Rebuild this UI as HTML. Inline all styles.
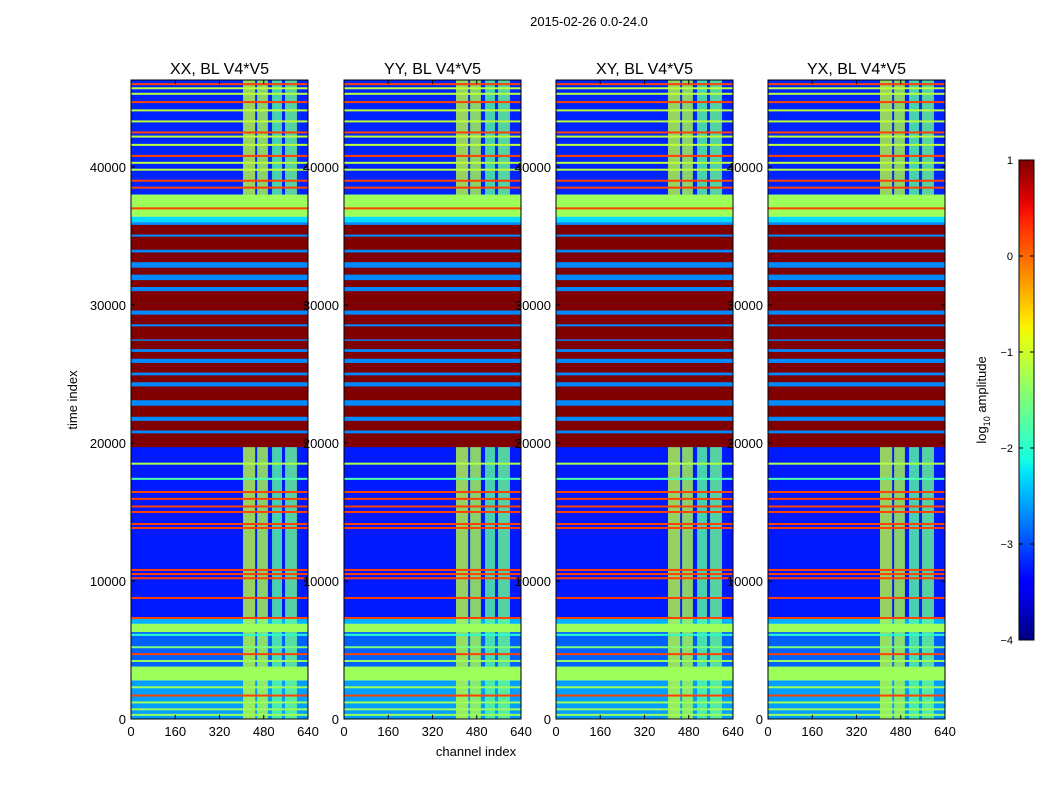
<!DOCTYPE html>
<html><head><meta charset="utf-8">
<style>
body{margin:0;background:#fff;font-family:"Liberation Sans",sans-serif;}
svg text{font-family:"Liberation Sans",sans-serif;fill:#000;}
</style></head>
<body>
<svg id="fig" width="1050" height="800" xmlns="http://www.w3.org/2000/svg">
<rect width="1050" height="800" fill="#fff"/>
<text x="589" y="26" font-size="13" text-anchor="middle">2015-02-26 0.0-24.0</text>
<text transform="translate(77,400) rotate(-90)" font-size="13" text-anchor="middle">time index</text>
<text x="476" y="756" font-size="13" text-anchor="middle">channel index</text>
<g id="panels"></g>
<defs><linearGradient id="jetg" x1="0" y1="1" x2="0" y2="0"></linearGradient></defs>
<rect x="1019" y="160" width="15" height="480" fill="url(#jetg)" stroke="#000" stroke-width="1"/>
<g id="cbticks"></g>
<text transform="translate(986,400) rotate(-90)" font-size="13" text-anchor="middle">log<tspan font-size="9" dy="4">10</tspan><tspan dy="-4"> amplitude</tspan></text>
</svg>
<script>
// ---- data ----
const panelTitles = ["XX, BL V4*V5","YY, BL V4*V5","XY, BL V4*V5","YX, BL V4*V5"];
const xTicks = [0,160,320,480,640];
const yTicks = [0,10000,20000,30000,40000];
const cbTicks = [1,0,-1,-2,-3,-4];
// background time bands [tStart, tEnd, log10 amplitude]
const bgBands = [[0,2800,-2.6],[2800,3800,-1.3],[3800,6300,-2.9],[6300,6900,-1.3],[6900,7300,-2.5],[7300,20000,-3.25],[20000,36000,-2.7],[36000,36400,-2.3],[36400,38000,-1.3],[38000,46300,-3.2]];
// red bands in the flagged region [tStart, tEnd]
const redBands = [[19700,20700],[20900,21600],[21900,22700],[23100,24100],[24400,24900],[25100,25800],[26100,26600],[26800,27400],[27500,28450],[28600,29300],[29600,30100],[30100,31000],[31300,31800],[32200,32700],[33100,33800],[34000,34950],[35100,35800]];
// horizontal line features [t, log10 amplitude]
const hLines = [[300,-1.3],[700,-1.3],[1200,-1.3],[1700,0.2],[2300,-1.3],[4200,-1.3],[4700,0.2],[5200,-1.5],[6100,-2.0],[7320,0.2],[8770,0.2],[10200,0.2],[10500,0.2],[10800,0.2],[13840,0.2],[14130,0.2],[15000,0.2],[15400,0.2],[15950,0.2],[16450,0.2],[17400,-1.8],[18500,-1.2],[37000,0.2],[38500,0.2],[39000,0.2],[39800,-1.1],[40300,-1.1],[40800,0.2],[41600,-1.1],[42200,-1.1],[42500,0.2],[43300,-1.1],[44100,-1.1],[44700,0.2],[45300,-1.1],[45700,-1.1],[46000,0.2]];
// RFI channel stripes [chStart, chEnd, log10 amplitude]
const rfiCols = [[405,449,-1.1],[456,495,-1.2],[510,546,-1.7],[557,600,-1.6]];
// time ranges where RFI stripes are visible
const rfiTimes = [[0,2800],[3800,6300],[6900,20000],[38000,46300]];
// ---- scales ----
const px0=[131,344,556,768], pw=177, py0=80, py1=719, tMax=46300;
const tY = t => py1 - t*(py1-py0)/tMax;
const chX = (p,c) => px0[p] + c*pw/640;
const JR=[[0,0],[0.35,0],[0.66,1],[0.89,1],[1,0.5]];
const JG=[[0,0],[0.125,0],[0.375,1],[0.64,1],[0.91,0],[1,0]];
const JB=[[0,0.5],[0.11,1],[0.34,1],[0.65,0],[1,0]];
function seg(s,x){for(let i=1;i<s.length;i++){if(x<=s[i][0]){const a=s[i-1],b=s[i];return a[1]+(b[1]-a[1])*(x-a[0])/(b[0]-a[0]);}}return s[s.length-1][1];}
function jet(v){
  let x=(v+4)/5; x=Math.max(0,Math.min(1,x));
  return `rgb(${Math.round(seg(JR,x)*255)},${Math.round(seg(JG,x)*255)},${Math.round(seg(JB,x)*255)})`;
}
const NS="http://www.w3.org/2000/svg";
function mk(tag,attrs,parent){const e=document.createElementNS(NS,tag);for(const k in attrs)e.setAttribute(k,attrs[k]);parent.appendChild(e);return e;}
const G=document.getElementById('panels');
for(let p=0;p<4;p++){
  const g=mk('g',{},G);
  
  
  const X0=chX(p,0), X1=chX(p,640);
  bgBands.forEach(b=>{
    const r=mk('rect',{x:X0,y:tY(b[1]),width:X1-X0,height:tY(b[0])-tY(b[1]),fill:jet(b[2])},g);
    
    
  });
  rfiTimes.forEach(tr=>{
    rfiCols.forEach(c=>{
      const r=mk('rect',{x:chX(p,c[0]),y:tY(tr[1]),width:chX(p,c[1])-chX(p,c[0]),height:tY(tr[0])-tY(tr[1]),fill:jet(c[2]),opacity:0.8},g);
      
      
    });
  });
  redBands.forEach(b=>{
    const r=mk('rect',{x:X0,y:tY(b[1]),width:X1-X0,height:tY(b[0])-tY(b[1]),fill:jet(1)},g);
    
    
  });
  hLines.forEach(l=>{
    const r=mk('rect',{x:X0,y:tY(l[0])-1,width:X1-X0,height:2,fill:jet(l[1])},g);
    
    
  });
  const fr=mk('rect',{x:X0,y:py0,width:pw,height:py1-py0,fill:'none',stroke:'#000','stroke-width':1},g);
  
  
  const tt=mk('text',{x:X0+pw/2,y:74,'font-size':16,'text-anchor':'middle'},g);
  tt.textContent=panelTitles[p];
  
  
  xTicks.forEach(v=>{
    const x=chX(p,v);
    mk('line',{x1:x,x2:x,y1:py1,y2:py1-4,stroke:'#000'},g);
    mk('line',{x1:x,x2:x,y1:py0,y2:py0+4,stroke:'#000'},g);
    const t=mk('text',{x:x,y:py1+17,'font-size':13,'text-anchor':'middle'},g);
    t.textContent=v;
    
    
  });
  yTicks.forEach(v=>{
    const y=tY(v);
    mk('line',{x1:X0,x2:X0+4,y1:y,y2:y,stroke:'#000'},g);
    mk('line',{x1:X1,x2:X1-4,y1:y,y2:y,stroke:'#000'},g);
    const t=mk('text',{x:X0-5,y:y+5,'font-size':13,'text-anchor':'end'},g);
    t.textContent=v;
    
    
  });
}
// colorbar
const grad=document.getElementById('jetg');
for(let i=0;i<=40;i++){const v=-4+5*i/40;mk('stop',{offset:(i/40),'stop-color':jet(v)},grad);}
const CB=document.getElementById('cbticks');
const cbY=v=>640-(v+4)*96;
cbTicks.forEach(v=>{
  const y=cbY(v);
  mk('line',{x1:1019,x2:1023,y1:y,y2:y,stroke:'#000'},CB);
  mk('line',{x1:1034,x2:1030,y1:y,y2:y,stroke:'#000'},CB);
  const t=mk('text',{x:1013,y:y+4,'font-size':11,'text-anchor':'end'},CB);
  t.textContent=v<0?('\u2212'+(-v)):v;
  
  
});
</script>
</body></html>
